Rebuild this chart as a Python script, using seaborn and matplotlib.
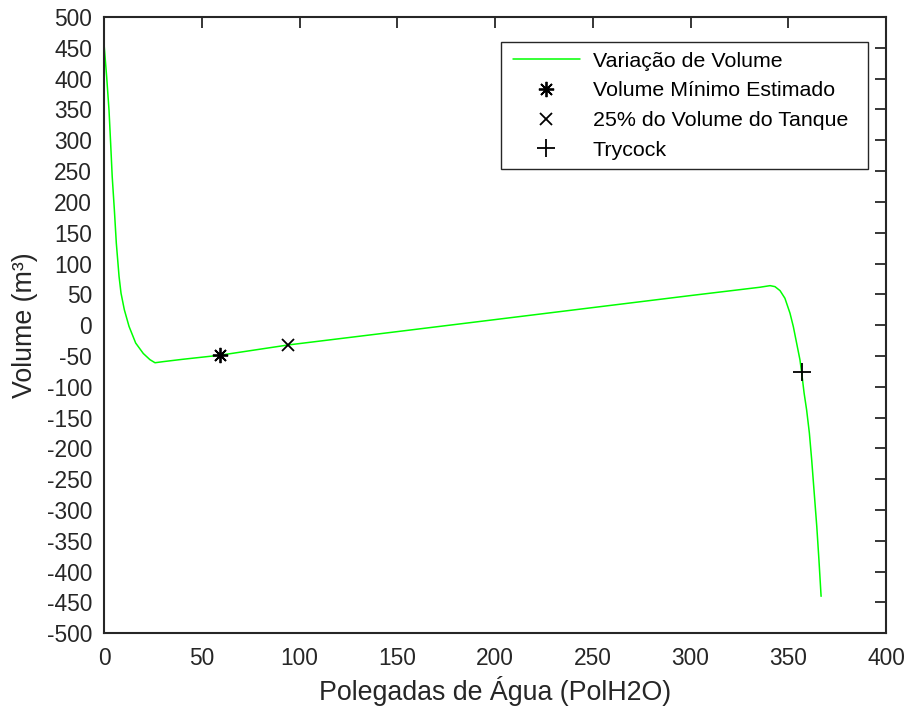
import numpy as np
import pandas as pd
import seaborn as sns
import matplotlib.pyplot as plt
from matplotlib.path import Path

# Volume variation curve (inches of water vs. volume)
pol_h2o = [0.0, 1.36, 2.56, 3.4, 4.2, 5.3, 6.3, 7.7, 8.7, 10.4, 12.8, 16.2,
           20.1, 23.5, 26.1, 30.3, 40.0, 59.3, 94.3, 150.0, 200.0, 250.0,
           300.0, 325.0, 335.5, 340.7, 343.2, 345.8, 348.3, 350.9, 352.6,
           354.3, 356.0, 356.9, 358.1, 359.4, 360.8, 362.0, 363.3, 364.6,
           365.7, 366.8]
volume = [457, 403, 349, 295, 241, 187, 133, 79, 52, 25, -2, -29,
          -46, -56, -61, -59.2, -55.5, -48.8, -32.1, -10.5, 9, 28.5,
          48, 57.5, 61.5, 64.1, 62.5, 56, 43.6, 19.3, -2.4,
          -29.4, -56.5, -78, -110, -137.6, -175, -219, -273, -327,
          -381, -440]

# Highlighted points
vol_min_x, vol_min_y = [59.3], [-48.8]
tank25_x, tank25_y = [94.3], [-32.1]
trycock_x, trycock_y = [356.9], [-76.4]

x_ticks = list(range(0, 401, 50))
y_ticks = list(range(-500, 501, 50))

sns.set_theme(style="white")
plt.rcParams['font.family'] = ['Liberation Sans', 'DejaVu Sans']
plt.rcParams['axes.unicode_minus'] = False

dark = '#262626'
fig = plt.figure(figsize=(9.06, 7.11), dpi=100)
ax = fig.add_axes([104 / 906, 1 - 633.3 / 711, (886 - 104) / 906, (633.3 - 17) / 711])

curve = pd.DataFrame({'pol': pol_h2o, 'vol': volume})
sns.lineplot(data=curve, x='pol', y='vol', sort=False, color='#00ff00',
             linewidth=1.1, ax=ax, label='Variação de Volume')

ax.plot(vol_min_x, vol_min_y, ls='none', marker=(8, 2, 0), color='black',
        markersize=11, markeredgewidth=1.3, label='Volume Mínimo Estimado')
ax.plot(tank25_x, tank25_y, ls='none', marker='x', color='black',
        markersize=9, markeredgewidth=1.3, label='25% do Volume do Tanque')
ax.plot(trycock_x, trycock_y, ls='none', marker='+', color='black',
        markersize=13, markeredgewidth=1.3, label='Trycock')

ax.set_xlim(0, 400)
ax.set_ylim(-500, 500)
ax.set_xticks(x_ticks)
ax.set_yticks(y_ticks)
ax.tick_params(direction='in', length=8, width=1.3, top=True, right=True,
               labelsize=16.4, colors=dark)
ax.tick_params(axis='y', pad=8.5)
ax.tick_params(axis='x', pad=10)
for s in ax.spines.values():
    s.set_color(dark)
    s.set_linewidth(1.5)
    s.set_visible(True)

ax.set_xlabel('Polegadas de Água (PolH2O)', fontsize=19.3, color=dark, labelpad=4)
ax.set_ylabel('Volume (m³)', fontsize=19.3, color=dark, labelpad=6)

FRAME_LEFT = 0.1
FRAME_RIGHT = 0.47


def wide_frame(x0, y0, width, height, mutation_size):
    """Square legend frame with extra room on the left and right."""
    xa = x0 - FRAME_LEFT * mutation_size
    xb = x0 + width + FRAME_RIGHT * mutation_size
    ya, yb = y0, y0 + height
    return Path([(xa, ya), (xb, ya), (xb, yb), (xa, yb), (xa, ya)],
                [Path.MOVETO, Path.LINETO, Path.LINETO, Path.LINETO, Path.CLOSEPOLY])


leg_fs = 15.4
right_extra_px = FRAME_RIGHT * leg_fs * 100 / 72
leg = ax.legend(loc='upper right',
                bbox_to_anchor=((868 - right_extra_px) / 906, 1 - 42 / 711),
                bbox_transform=fig.transFigure, borderaxespad=0, fontsize=leg_fs,
                handlelength=3.15, handletextpad=0.6, labelspacing=0.5,
                frameon=True, fancybox=False, framealpha=1, borderpad=0.45)
frame = leg.get_frame()
frame.set_boxstyle(wide_frame)
frame.set_edgecolor(dark)
frame.set_linewidth(1.0)
for t in leg.get_texts():
    t.set_color('#000000')

fig.savefig('out.png', dpi=100)
